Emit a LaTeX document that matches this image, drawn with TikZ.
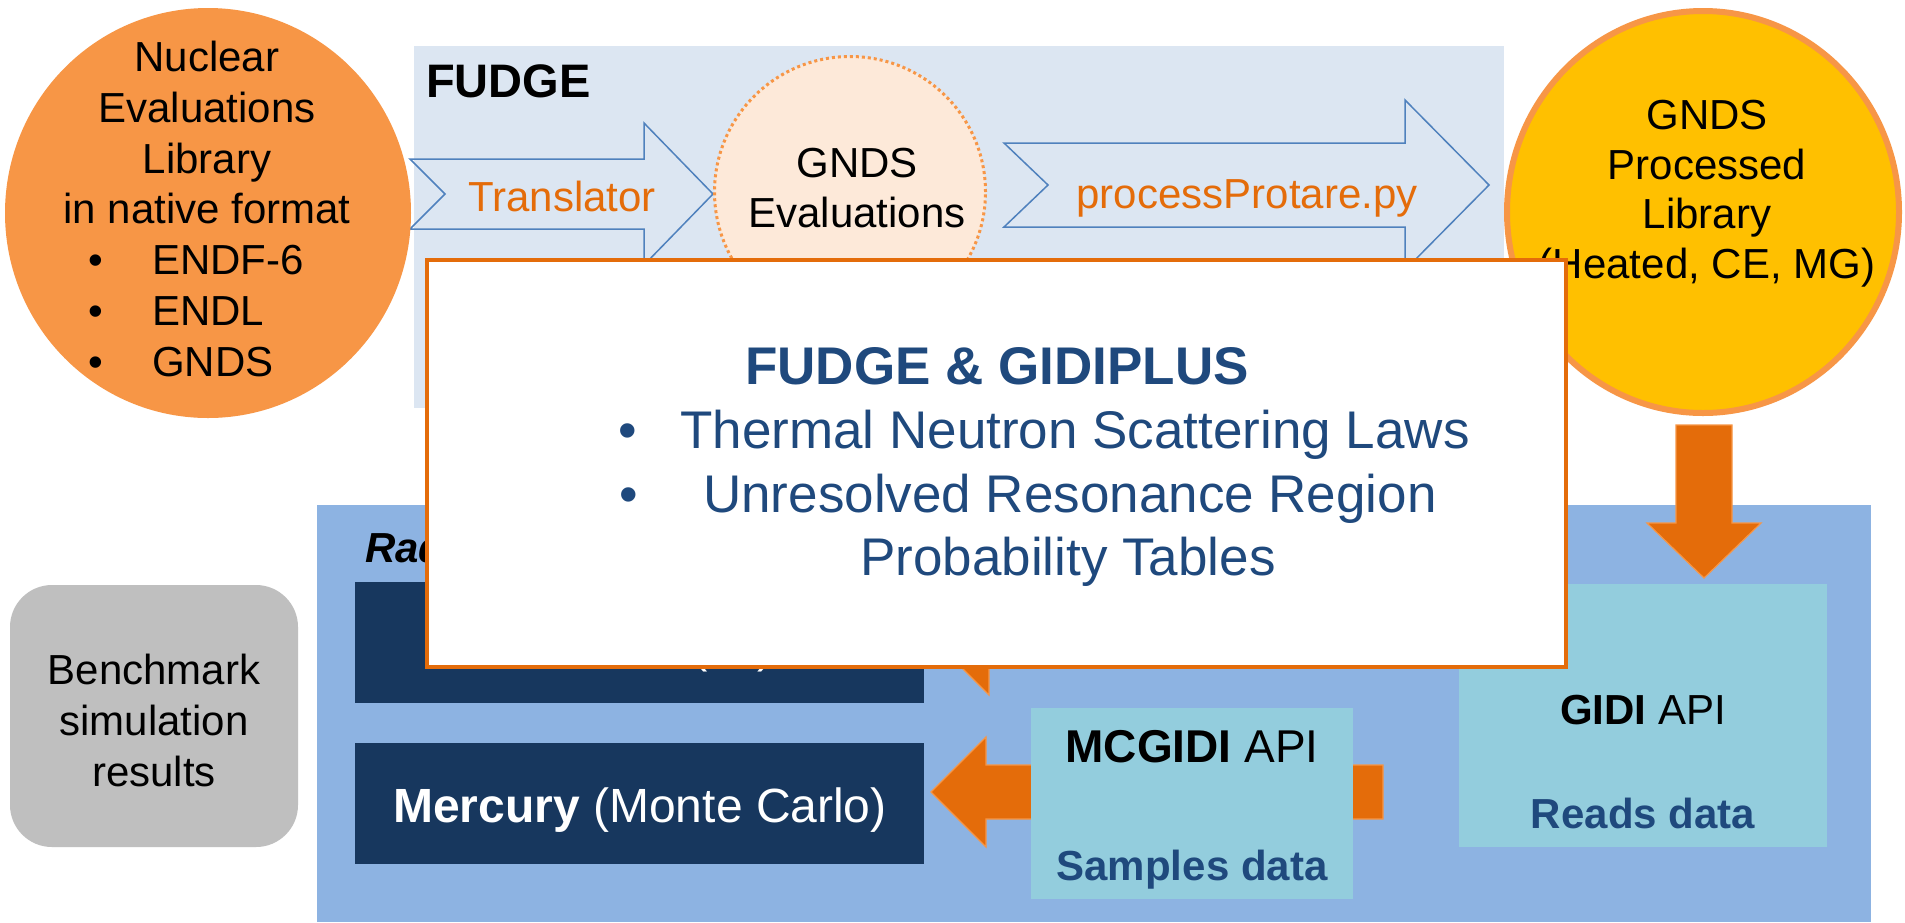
\documentclass[tikz,border=0pt]{standalone}
\usepackage{fontspec}
\setmainfont{Liberation Sans}
\usetikzlibrary{shapes.geometric}
\definecolor{orgfill}{HTML}{F79646}
\definecolor{fudgebg}{HTML}{DCE6F2}
\definecolor{arrline}{HTML}{4F81BD}
\definecolor{peach}{HTML}{FDE9D9}
\definecolor{orgdark}{HTML}{E46C0A}
\definecolor{navytext}{HTML}{1F497D}
\definecolor{gold}{HTML}{FFC000}
\definecolor{radblue}{HTML}{8DB3E2}
\definecolor{navybox}{HTML}{17375E}
\definecolor{tealbox}{HTML}{93CDDD}
\definecolor{benchgray}{HTML}{BFBFBF}
\tikzset{
  box/.style={rectangle, inner sep=0pt, outer sep=0pt, anchor=north west},
  t42/.style={inner sep=0pt, anchor=base, font=\fontsize{42}{50}\selectfont},
  t48/.style={inner sep=0pt, anchor=base, font=\fontsize{48}{57}\selectfont},
  t46/.style={inner sep=0pt, anchor=base, font=\fontsize{46}{55}\selectfont},
  t53/.style={inner sep=0pt, anchor=base, font=\fontsize{53}{64}\selectfont, text=navytext},
  blockarrow/.style={draw=arrline, line width=1.5pt, line join=miter},
  orgarrow/.style={fill=orgdark, draw=orgfill, line width=1.2pt, line join=miter},
}
\begin{document}
\begin{tikzpicture}[x=1pt,y=-1pt]
\useasboundingbox (0,0) rectangle (1905,922);
\fill[white] (0,0) rectangle (1905,922);

% FUDGE background
\node[box, fill=fudgebg, minimum width=1090pt, minimum height=362pt] (fudge) at (414,46) {};
\node[anchor=base west, inner sep=0pt, font=\fontsize{47}{56}\selectfont\bfseries] (fudgelbl) at (426,97) {FUDGE};

% Translator block arrow
\draw[blockarrow] (410,159) -- (644,159) -- (644,123) -- (713,194) -- (644,265) -- (644,229) -- (410,229) -- (445,194) -- cycle;
\node[t42, text=orgdark] (trl) at (562,211) {Translator};

% processProtare block arrow
\draw[blockarrow] (1004,143) -- (1405,143) -- (1405,100) -- (1489,185) -- (1405,270) -- (1405,227) -- (1004,227) -- (1048,185) -- cycle;
\node[t42, text=orgdark] (ppy) at (1247,208) {processProtare.py};

% GNDS evaluations dotted circle
\node[circle, fill=peach, draw=orgfill, line width=3pt, dash pattern=on 3pt off 3pt, minimum size=271pt, inner sep=0pt] (gev) at (850,192) {};
\node[t42] (gev1) at (857,177) {GNDS};
\node[t42] (gev2) at (857,227) {Evaluations};

% Left orange circle
\node[ellipse, fill=orgfill, minimum width=406pt, minimum height=410pt, inner sep=0pt] (lib) at (208,213) {};
\node[t42] (lib1) at (207,71) {Nuclear};
\node[t42] (lib2) at (207,122) {Evaluations};
\node[t42] (lib3) at (207,173) {Library};
\node[t42] (lib4) at (207,223) {in native format};
\node[t42] (b1) at (96,274) {•};
\node[t42] (b2) at (96,325) {•};
\node[t42] (b3) at (96,376) {•};
\node[t42, anchor=base west] (lib5) at (152,274) {ENDF-6};
\node[t42, anchor=base west] (lib6) at (152,325) {ENDL};
\node[t42, anchor=base west] (lib7) at (152,376) {GNDS};

% Yellow processed library circle
\node[ellipse, fill=gold, draw=orgfill, line width=6pt, minimum width=392pt, minimum height=402pt, inner sep=0pt] (proc) at (1703,212) {};
\node[t42] (proc1) at (1707,129) {GNDS};
\node[t42] (proc2) at (1707,179) {Processed};
\node[t42] (proc3) at (1707,228) {Library};
\node[t42] (proc4) at (1707,278) {(Heated, CE, MG)};

% Radiation transport box
\node[box, fill=radblue, minimum width=1554pt, minimum height=417pt] (rad) at (317,505) {};
\node[t42, anchor=base west, font=\fontsize{42}{50}\selectfont\bfseries\itshape] (radlbl) at (365,562) {Rad};

% Down arrow (processed library -> GIDI)
\draw[orgarrow] (1676,425) -- (1732,425) -- (1732,523) -- (1761,523) -- (1704,578) -- (1647,523) -- (1676,523) -- cycle;

% Dark code boxes
\node[box, fill=navybox, minimum width=569pt, minimum height=121pt] (upper) at (355,582) {};
\node[t46, text=white] (uppertxt) at (733,662) {(\hspace{50pt})};
\node[box, fill=navybox, minimum width=569pt, minimum height=121pt] (merc) at (355,743) {};
\node[t48, text=white] (merctxt) at (640,822) {\textbf{Mercury} (Monte Carlo)};

% Left arrow MCGIDI -> Mercury
\draw[orgarrow] (1383,765) -- (986,765) -- (986,737) -- (931,792) -- (986,847) -- (986,819) -- (1383,819) -- cycle;

% Mostly hidden arrow towards the upper dark box
\draw[orgarrow] (1383,615) -- (989,615) -- (989,589) -- (936,642) -- (989,695) -- (989,667) -- (1383,667) -- cycle;

% MCGIDI box
\node[box, fill=tealbox, minimum width=322pt, minimum height=191pt] (mcg) at (1031,708) {};
\node[t46] (mcg1) at (1192,762) {\textbf{MCGIDI} API};
\node[t42, text=navytext, font=\fontsize{42}{50}\selectfont\bfseries] (mcg2) at (1192,880) {Samples data};

% GIDI box
\node[box, fill=tealbox, minimum width=368pt, minimum height=263pt] (gidi) at (1459,584) {};
\node[t42] (gidi1) at (1643,724) {\textbf{GIDI} API};
\node[t42, text=navytext, font=\fontsize{42}{50}\selectfont\bfseries] (gidi2) at (1643,828) {Reads data};

% Benchmark box
\node[box, fill=benchgray, rounded corners=42pt, minimum width=288pt, minimum height=262pt] (bench) at (10,585) {};
\node[t42] (bench1) at (154,684) {Benchmark};
\node[t42] (bench2) at (154,735) {simulation};
\node[t42] (bench3) at (154,786) {results};

% Callout
\node[box, fill=white, draw=orgdark, line width=3.5pt, minimum width=1139pt, minimum height=407pt] (callout) at (427,260) {};
\node[t53, font=\fontsize{53}{64}\selectfont\bfseries] (co0) at (997,384) {FUDGE \& GIDIPLUS};
\node[t53] (cb1) at (628,448) {•};
\node[t53] (cb2) at (629,512) {•};
\node[t53] (co1) at (1075,448) {Thermal Neutron Scattering Laws};
\node[t53] (co2) at (1070,512) {Unresolved Resonance Region};
\node[t53] (co3) at (1068,575) {Probability Tables};
\end{tikzpicture}
\end{document}
